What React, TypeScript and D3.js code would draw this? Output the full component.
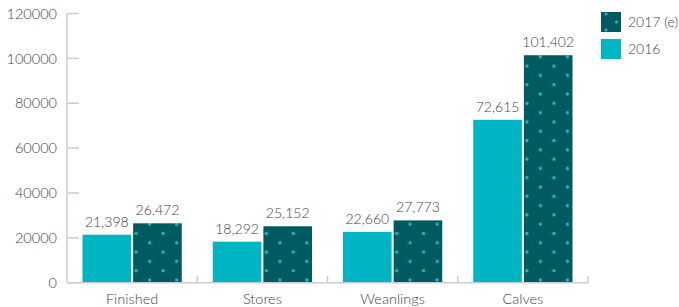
import { useEffect, useRef } from 'react';
import * as d3 from 'd3';

const categories = ['Finished', 'Stores', 'Weanlings', 'Calves'];
const series = ['2016', '2017 (e)'];
const values2016 = [21398, 18292, 22660, 72615];
const values2017 = [26472, 25152, 27773, 101402];
const yTicks = [0, 20000, 40000, 60000, 80000, 100000, 120000];

const W = 679;
const H = 307;
const LIGHT = '#00b5c3';
const DARK = '#005a60';
const DOT = '#14bcc8';
const AXIS = '#c9cdd1';
const TEXT = '#444';
const FONT = 'Lato, "Open Sans", sans-serif';

export default function App() {
  const svgRef = useRef<SVGSVGElement>(null);

  useEffect(() => {
    const svg = d3.select(svgRef.current);
    svg.selectAll('*').remove();

    const left = 67;
    const right = 588;
    const top = 13.5;
    const base = 282.7;

    const x = d3.scaleBand().domain(categories).range([left, right])
      .paddingInner(0.238).paddingOuter(0.119);
    const xs = d3.scaleBand().domain(series).range([0, x.bandwidth()]).paddingInner(0.04);
    const y = d3.scaleLinear().domain([0, 120000]).range([base, top]);

    const defs = svg.append('defs');
    const label = (sel: any, size: number) =>
      sel.attr('font-size', size).attr('fill', TEXT).attr('font-family', FONT)
        .attr('font-weight', 300);

    // y axis
    svg.append('line').attr('x1', left).attr('x2', left).attr('y1', top).attr('y2', base)
      .attr('stroke', AXIS).attr('stroke-width', 1.5);
    yTicks.forEach((t) => {
      svg.append('line').attr('x1', left).attr('x2', left + 12).attr('y1', y(t)).attr('y2', y(t))
        .attr('stroke', AXIS).attr('stroke-width', 1.5);
      label(svg.append('text').attr('x', 57).attr('y', y(t)).attr('dy', '0.36em')
        .attr('text-anchor', 'end'), 14.5).text(String(t));
    });

    // bars
    const fmt = d3.format(',');
    const rows = categories.map((c, i) => ({ c, v16: values2016[i], v17: values2017[i] }));
    rows.forEach((r, i) => {
      const gx = x(r.c)!;
      svg.append('rect').attr('x', gx + xs('2016')!).attr('y', y(r.v16))
        .attr('width', xs.bandwidth()).attr('height', base - y(r.v16)).attr('fill', LIGHT);

      const bx = gx + xs('2017 (e)')!;
      const id = `dots${i}`;
      const pat = defs.append('pattern').attr('id', id).attr('patternUnits', 'userSpaceOnUse')
        .attr('x', bx + 3).attr('y', base - 2.7).attr('width', 27).attr('height', 18.6);
      pat.append('rect').attr('width', 27).attr('height', 18.6).attr('fill', DARK);
      [[0, 9.3], [27, 9.3], [13.5, 0], [13.5, 18.6]].forEach(([cx, cy]) => {
        pat.append('circle').attr('cx', cx).attr('cy', cy).attr('r', 1.7).attr('fill', DOT);
      });
      svg.append('rect').attr('x', bx).attr('y', y(r.v17))
        .attr('width', xs.bandwidth()).attr('height', base - y(r.v17)).attr('fill', `url(#${id})`);

      label(svg.append('text').attr('x', gx + xs('2016')! + xs.bandwidth() / 2)
        .attr('y', y(r.v16) - 8).attr('text-anchor', 'middle'), 14).text(fmt(r.v16));
      label(svg.append('text').attr('x', bx + xs.bandwidth() / 2)
        .attr('y', y(r.v17) - 8).attr('text-anchor', 'middle'), 14).text(fmt(r.v17));

      label(svg.append('text').attr('x', gx + x.bandwidth() / 2).attr('y', 304)
        .attr('text-anchor', 'middle'), 14.5).text(r.c);
    });

    // x axis
    svg.append('line').attr('x1', left).attr('x2', right).attr('y1', base).attr('y2', base)
      .attr('stroke', AXIS).attr('stroke-width', 1.5);
    categories.forEach((c) => {
      const tx = x(c)! + x.bandwidth() + (x.step() - x.bandwidth()) / 2;
      svg.append('line').attr('x1', tx).attr('x2', tx).attr('y1', base).attr('y2', base - 7)
        .attr('stroke', AXIS).attr('stroke-width', 1.5);
    });

    // legend
    const lg = svg.append('g').attr('transform', 'translate(601,12)');
    lg.append('rect').attr('width', 20).attr('height', 20).attr('fill', DARK);
    [[5, 2], [15.5, 10], [5, 18]].forEach(([cx, cy]) => {
      lg.append('circle').attr('cx', cx).attr('cy', cy).attr('r', 1.5).attr('fill', DOT);
    });
    lg.append('rect').attr('y', 27).attr('width', 20).attr('height', 20).attr('fill', LIGHT);
    label(lg.append('text').attr('x', 27).attr('y', 10).attr('dy', '0.36em'), 14).text('2017 (e)');
    label(lg.append('text').attr('x', 27).attr('y', 37).attr('dy', '0.36em'), 14).text('2016');
  }, []);

  return (
    <svg ref={svgRef} width={W} height={H}
      style={{ position: 'absolute', left: 0, top: 0, background: '#fff' }} />
  );
}
